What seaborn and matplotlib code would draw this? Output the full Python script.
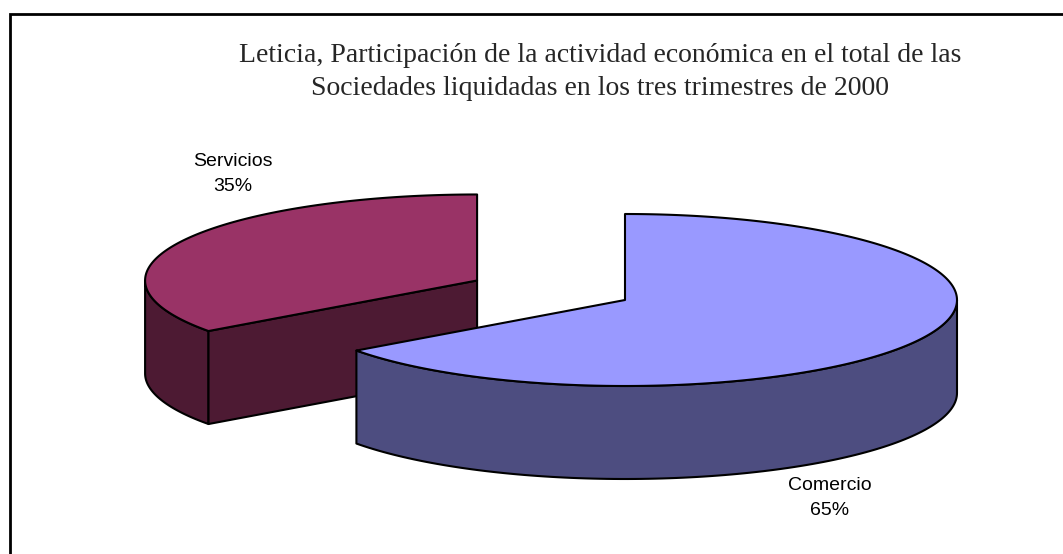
import numpy as np
import matplotlib
matplotlib.use("Agg")
import matplotlib.pyplot as plt
import seaborn as sns
from matplotlib.patches import Polygon

# data
categories = ["Servicios", "Comercio"]
shares = [35, 65]
explode = [0.5, 0.0]
top_colors = ["#993366", "#9999FF"]
side_colors = ["#4D1A33", "#4D4D80"]
title = ("Leticia, Participación de la actividad económica en el total de las\n"
         "Sociedades liquidadas en los tres trimestres de 2000")

# geometry of the 3d pie (pixels)
CX, CY = 625, 300
RX, RY = 332, 86
DEPTH = 93
label_pos = [(233, 174), (830, 498)]

sns.set_style("white")
plt.rcParams["font.family"] = ["Liberation Sans", "DejaVu Sans"]

fig = plt.figure(figsize=(10.63, 5.54), dpi=100)
ax = fig.add_axes([0, 0, 1, 1])
ax.set_xlim(0, 1063)
ax.set_ylim(554, 0)
ax.axis("off")


def pt(cx, cy, ang):
    a = np.radians(ang)
    return cx + RX * np.cos(a), cy - RY * np.sin(a)


fracs = np.array(shares) / np.sum(shares)
starts = 90 + 360 * np.concatenate([[0], np.cumsum(fracs)[:-1]])
ends = starts + 360 * fracs

for i, cat in enumerate(categories):
    s, e = starts[i], ends[i]
    mid = np.radians((s + e) / 2)
    cx = CX + explode[i] * RX * np.cos(mid)
    cy = CY - explode[i] * RY * np.sin(mid)
    kw = dict(edgecolor="black", linewidth=1.5, joinstyle="round")

    # outer wall, only the front half (180..360) is visible
    lo, hi = max(s, 180), min(e, 360)
    if hi > lo:
        angs = np.linspace(lo, hi, 120)
        top = [pt(cx, cy, a) for a in angs]
        bot = [(x, y + DEPTH) for x, y in top[::-1]]
        ax.add_patch(Polygon(top + bot, closed=True, facecolor=side_colors[i], **kw))

    # radial cut faces facing the viewer
    for ang, sign in ((s, -1), (e, 1)):
        if np.sin(np.radians(ang)) > 0:
            continue
        if np.cos(np.radians(ang)) * sign < 0:
            x, y = pt(cx, cy, ang)
            face = [(cx, cy), (x, y), (x, y + DEPTH), (cx, cy + DEPTH)]
            ax.add_patch(Polygon(face, closed=True, facecolor=side_colors[i], **kw))

    angs = np.linspace(s, e, 300)
    top = [(cx, cy)] + [pt(cx, cy, a) for a in angs]
    ax.add_patch(Polygon(top, closed=True, facecolor=top_colors[i], **kw))

    lx, ly = label_pos[i]
    ax.text(lx, ly, f"{cat}\n{shares[i]}%", ha="center", va="center",
            fontsize=14, linespacing=1.62, color="black")

ax.text(600, 72, title, ha="center", va="center", fontsize=20,
        family=["Liberation Serif", "DejaVu Serif"], linespacing=1.45)

# chart frame (left and top edges are visible)
ax.plot([10, 10, 1063], [554, 14, 14], color="black", linewidth=2,
        solid_joinstyle="miter", clip_on=False)

fig.savefig("out.png", dpi=100)
